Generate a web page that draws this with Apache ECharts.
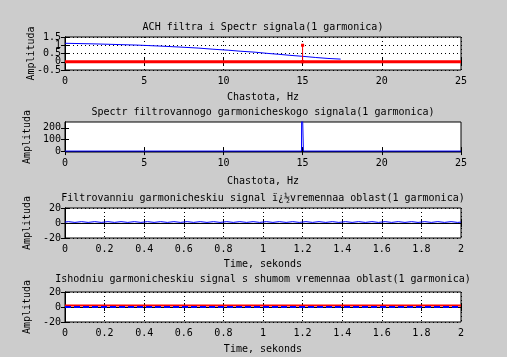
<!DOCTYPE html>
<html>
<head>
<meta charset="utf-8">
<script src="https://cdn.jsdelivr.net/npm/echarts@6/dist/echarts.min.js"></script>
<style>
html,body{margin:0;padding:0;background:#cccccc;}
#c{width:507px;height:357px;}
</style>
</head>
<body>
<div id="c"></div>
<script>
// ---- Titles / labels ----
const titles = [
  "ACH filtra i Spectr signala(1 garmonica)",
  "Spectr filtrovannogo garmonicheskogo signala(1 garmonica)",
  "Filtrovanniu garmonicheskiu signal ï¿½vremennaa oblast(1 garmonica)",
  "Ishodniu garmonicheskiu signal s shumom vremennaa oblast(1 garmonica)"
];
const xNames = ["Chastota, Hz", "Chastota, Hz", "Time, sekonds", "Time, sekonds"];
const yName = "Amplituda";

// ---- Plot 1: filter frequency response (blue) and signal spectrum (red) ----
const achFreq = [0, 1.96, 4.55, 6.0, 7.26, 8.4, 9.34, 10.3, 11.05, 12.0, 12.75, 13.5, 14.2, 15.0, 15.8, 16.6, 17.4];
const achAmp  = [1.12, 1.08, 1.01, 0.95, 0.89, 0.83, 0.76, 0.70, 0.64, 0.58, 0.51, 0.45, 0.39, 0.33, 0.26, 0.20, 0.16];
const sigSpecFreq = [0, 25];
const sigSpecAmp  = [0, 0];
const stemFreq = [15, 15];
const stemAmp  = [0, 1];

// ---- Plot 2: spectrum of filtered signal ----
const filtSpecFreq = [0, 14.93, 14.95, 15.03, 15.05, 25];
const filtSpecAmp  = [0, 0, 600, 600, 0, 0];

// ---- Plot 3: filtered signal in time domain ----
const filtTime = [0, 0.017, 0.05, 0.083, 0.117, 0.15, 0.183, 0.217, 0.25, 0.283, 0.317, 0.35, 0.383, 0.417, 0.45, 0.483,
  0.517, 0.55, 0.583, 0.617, 0.65, 0.683, 0.717, 0.75, 0.783, 0.817, 0.85, 0.883, 0.917, 0.95, 0.983,
  1.017, 1.05, 1.083, 1.117, 1.15, 1.183, 1.217, 1.25, 1.283, 1.317, 1.35, 1.383, 1.417, 1.45, 1.483,
  1.517, 1.55, 1.583, 1.617, 1.65, 1.683, 1.717, 1.75, 1.783, 1.817, 1.85, 1.883, 1.917, 1.95, 1.983, 2];
const filtSig = [1.2, 1.8, 0.8, 1.8, 0.8, 1.8, 0.8, 1.8, 0.8, 1.8, 0.8, 1.8, 0.8, 1.8, 0.8, 1.8,
  0.8, 1.8, 0.8, 1.8, 0.8, 1.8, 0.8, 1.8, 0.8, 1.8, 0.8, 1.8, 0.8, 1.8, 0.8,
  1.8, 0.8, 1.8, 0.8, 1.8, 0.8, 1.8, 0.8, 1.8, 0.8, 1.8, 0.8, 1.8, 0.8, 1.8,
  0.8, 1.8, 0.8, 1.8, 0.8, 1.8, 0.8, 1.8, 0.8, 1.8, 0.8, 1.8, 0.8, 1.8, 0.8, 1.2];

// ---- Plot 4: original noisy signal (red) and clean signal (blue dashed) ----
const origTime = [0, 2];
const noisySig = [2, 2];
const cleanSig = [0, 0];

// ---- Axis ranges / ticks ----
const xRanges = [[0, 25, 5], [0, 25, 5], [0, 2, 0.2], [0, 2, 0.2]];
const yRanges = [[-0.5, 1.5, 0.5], [-8, 250, null], [-20, 20, 20], [-20, 20, 20]];
const ach1LabelsA = [0, 1];
const ach1LabelsB = [-0.5, 0.5, 1.5];
const spec2YTicks = [0, 100, 200];

function pairs(xs, ys) { return xs.map((x, i) => [x, ys[i]]); }

const FONT = 'DejaVu Sans Mono';
const grids = [
  {left: 65, top: 37, width: 396, height: 33},
  {left: 65, top: 122, width: 396, height: 30},
  {left: 65, top: 208, width: 396, height: 30},
  {left: 65, top: 292, width: 396, height: 30}
];
const xNameGaps = [22, 24, 21, 22];
const titleGaps = [5, 5, 5, 8];
const showGrid = [true, false, true, true];

const gridDash = {color: '#000', width: 1, type: [1, 3]};
const labelStyle = {color: '#000', fontFamily: FONT, fontSize: 10, lineHeight: 6, margin: 4,
  showMinLabel: true, showMaxLabel: true, hideOverlap: false};
const xAxes = [], yAxes = [];
grids.forEach((g, i) => {
  const [xmin, xmax, xint] = xRanges[i];
  const [ymin, ymax, yint] = yRanges[i];
  const tickCommon = {inside: true, length: 4, lineStyle: {color: '#000'}};
  xAxes.push({
    gridIndex: i, type: 'value', position: 'bottom', min: xmin, max: xmax, interval: xint,
    axisLine: {show: true, lineStyle: {color: '#000'}},
    axisTick: tickCommon,
    axisLabel: {color: '#000', fontFamily: FONT, fontSize: 10, margin: 6, showMinLabel: true, showMaxLabel: true, hideOverlap: false},
    splitLine: {show: showGrid[i], lineStyle: gridDash},
    name: xNames[i], nameLocation: 'middle', nameGap: xNameGaps[i],
    nameTextStyle: {color: '#000', fontFamily: FONT, fontSize: 10}
  });
  xAxes.push({
    gridIndex: i, type: 'value', position: 'top', min: xmin, max: xmax, interval: xint,
    axisLine: {show: true, lineStyle: {color: '#000'}},
    axisTick: tickCommon, axisLabel: {show: false}, splitLine: {show: false},
    name: titles[i], nameLocation: 'middle', nameGap: titleGaps[i],
    nameTextStyle: {color: '#000', fontFamily: FONT, fontSize: 10}
  });
  const yl = {
    gridIndex: i, type: 'value', position: 'left', min: ymin, max: ymax,
    axisLine: {show: true, lineStyle: {color: '#000'}},
    axisTick: Object.assign({}, tickCommon),
    axisLabel: Object.assign({}, labelStyle),
    splitLine: {show: showGrid[i], lineStyle: gridDash},
    name: yName, nameLocation: 'middle', nameGap: 29,
    nameTextStyle: {color: '#000', fontFamily: FONT, fontSize: 10}
  };
  const yr = {
    gridIndex: i, type: 'value', position: 'right', min: ymin, max: ymax,
    axisLine: {show: true, lineStyle: {color: '#000'}},
    axisTick: Object.assign({}, tickCommon), axisLabel: {show: false}, splitLine: {show: false}
  };
  if (yint !== null) { yl.interval = yint; yr.interval = yint; }
  else {
    yl.axisLabel.customValues = spec2YTicks;
    yl.axisTick.customValues = spec2YTicks;
    yr.axisTick.customValues = spec2YTicks;
  }
  if (i === 0) yl.axisLabel.customValues = ach1LabelsA;
  yAxes.push(yl, yr);
});
// extra label-only axis for plot 1 (labels overlap in the original, so split over two axes)
yAxes.push({
  gridIndex: 0, type: 'value', position: 'left', min: yRanges[0][0], max: yRanges[0][1], interval: yRanges[0][2],
  axisLine: {show: false}, axisTick: {show: false}, splitLine: {show: false},
  axisLabel: Object.assign({}, labelStyle, {customValues: ach1LabelsB})
});

const line = (xi, data, color, width, extra) => Object.assign({
  type: 'line', xAxisIndex: xi * 2, yAxisIndex: xi * 2, data: data,
  showSymbol: false, symbol: 'none', animation: false, silent: true,
  lineStyle: {color: color, width: width}, clip: true
}, extra || {});

const option = {
  backgroundColor: '#cccccc',
  animation: false,
  grid: grids.map(g => Object.assign({show: true, backgroundColor: '#fff', borderColor: '#000', borderWidth: 1}, g)),
  xAxis: xAxes,
  yAxis: yAxes,
  series: [
    line(0, pairs(achFreq, achAmp), '#0000ff', 1),
    line(0, pairs(sigSpecFreq, sigSpecAmp), '#ff0000', 3),
    line(0, pairs(stemFreq, stemAmp), '#ff0000', 1, {
      symbol: 'rect', symbolSize: 3, showSymbol: true,
      itemStyle: {color: '#ff0000'}
    }),
    line(1, pairs(filtSpecFreq, filtSpecAmp), '#0000ff', 1),
    line(2, pairs(filtTime, filtSig), '#0000ff', 1),
    line(3, pairs(origTime, noisySig), '#ff0000', 2),
    line(3, pairs(origTime, cleanSig), '#0000ff', 2, {lineStyle: {color: '#0000ff', width: 2, type: [6, 3]}})
  ]
};

const chart = echarts.init(document.getElementById('c'), null, {renderer: 'canvas'});
chart.setOption(option);
</script>
</body>
</html>
